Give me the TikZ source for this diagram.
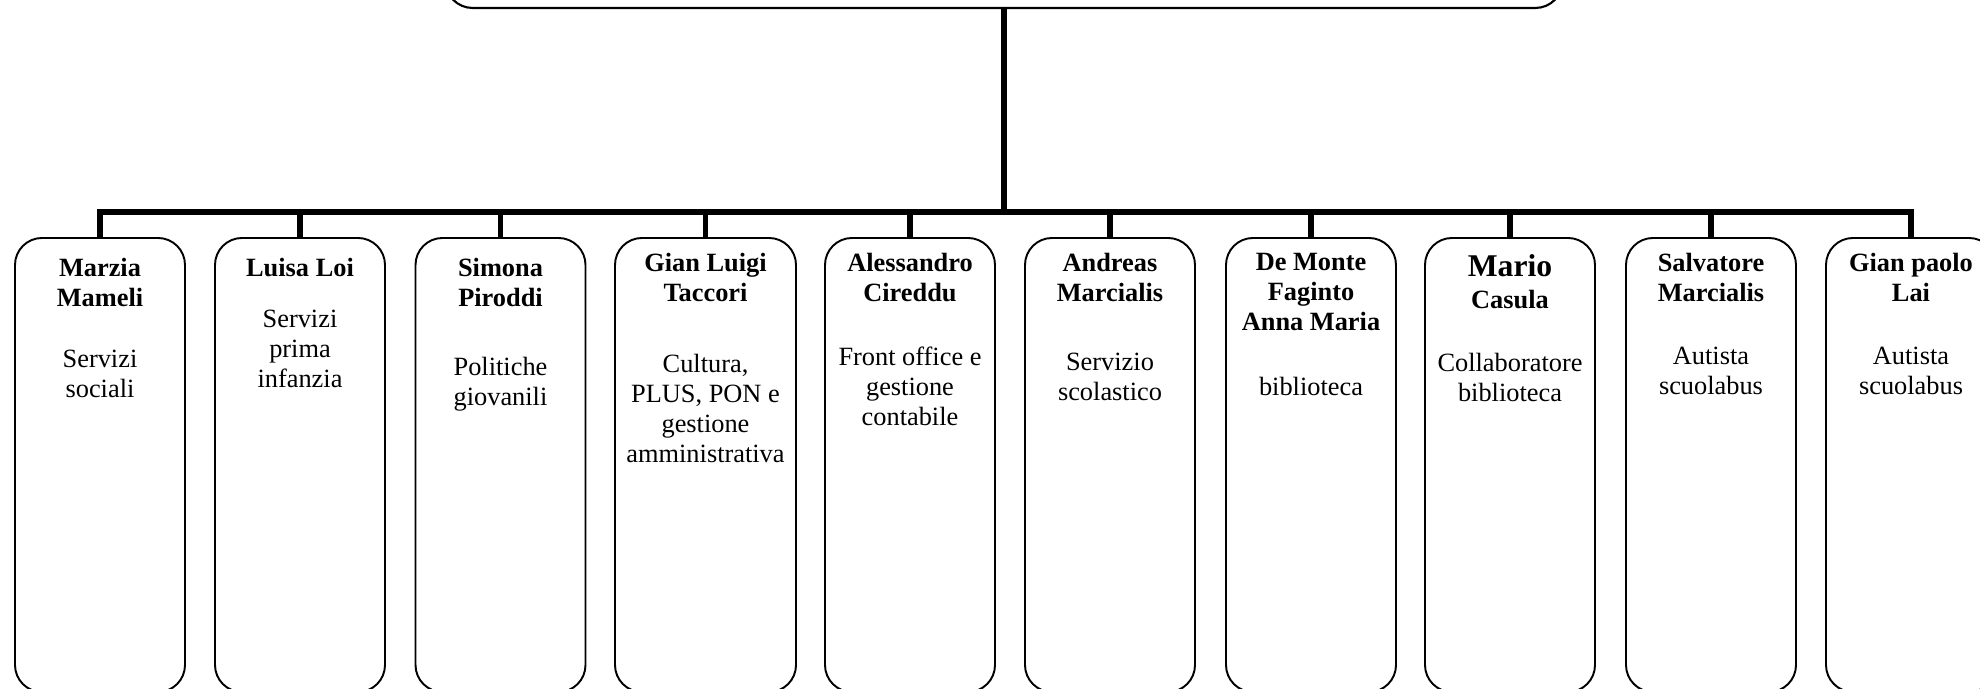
\documentclass[tikz,border=0pt]{standalone}
\usepackage{fontspec}
\setmainfont{Liberation Serif}
\usepackage{tikz}
\tikzset{
  head/.style={draw, rounded corners=5.4mm, line width=1.2pt, minimum width=223.4mm, minimum height=20mm},
  staff/.style={draw, rounded corners=5.4mm, line width=1.1pt, minimum width=34mm, minimum height=90.8mm, anchor=north},
  who/.style={anchor=north, inner sep=0pt, align=center, font=\fontsize{15}{17}\selectfont\bfseries},
  task/.style={anchor=north, inner sep=0pt, align=center, font=\fontsize{15}{17}\selectfont},
  trunk/.style={line width=3.4pt},
  branch/.style={line width=3pt}
}

\begin{document}
\begin{tikzpicture}
  \useasboundingbox (0,0) rectangle (39.6,-13.76);
  \node[head, anchor=south] (resp) at (20.08,-0.18) {};

  \node[staff] (mameli) at (2.00,-4.74) {};
  \node[staff] (loi) at (6.00,-4.74) {};
  \node[staff] (piroddi) at (10.01,-4.74) {};
  \node[staff, minimum width=36.2mm] (taccori) at (14.11,-4.74) {};
  \node[staff] (cireddu) at (18.20,-4.74) {};
  \node[staff] (andreas) at (22.20,-4.74) {};
  \node[staff] (demonte) at (26.22,-4.74) {};
  \node[staff] (casula) at (30.20,-4.74) {};
  \node[staff] (salvatore) at (34.22,-4.74) {};
  \node[staff] (lai) at (38.22,-4.74) {};

  \coordinate (bus) at (20.1,-4.24);
  \draw[trunk] (resp.south) -- (resp.south |- bus);
  \draw[trunk] (mameli.north) -- (mameli.north |- bus) -- (lai.north |- bus) -- (lai.north);
  \foreach \x in {loi,piroddi,taccori,cireddu,andreas,demonte,casula,salvatore} {
    \draw[branch] (\x.north) -- (\x.north |- bus);
  }

  \node[who] (mameliname) at (2.00,-5.16) {Marzia\\Mameli};
  \node[who] (loiname) at (6.00,-5.16) {Luisa Loi};
  \node[who] (piroddiname) at (10.01,-5.16) {Simona\\Piroddi};
  \node[who] (taccoriname) at (14.11,-5.06) {Gian Luigi\\Taccori};
  \node[who] (cireddunane) at (18.20,-5.06) {Alessandro\\Cireddu};
  \node[who] (andreasname) at (22.20,-5.06) {Andreas\\Marcialis};
  \node[who] (demontename) at (26.22,-5.06) {De Monte\\Faginto\\Anna Maria};
  \node[who] (casulaname) at (30.20,-5.08) {{\fontsize{18}{20}\selectfont Mario}\\[1.5pt]Casula};
  \node[who] (salvatorename) at (34.22,-5.06) {Salvatore\\Marcialis};
  \node[who] (lainame) at (38.22,-5.06) {Gian paolo\\Lai};

  \node[task] (mamelirole) at (2.00,-7.00) {Servizi\\sociali};
  \node[task] (loirole) at (6.00,-6.20) {Servizi\\prima\\infanzia};
  \node[task] (piroddirole) at (10.01,-7.14) {Politiche\\giovanili};
  \node[task] (taccorirole) at (14.11,-7.08) {Cultura,\\PLUS, PON e\\gestione\\amministrativa};
  \node[task] (cirederole) at (18.20,-6.94) {Front office e\\gestione\\contabile};
  \node[task] (andreasrole) at (22.20,-7.06) {Servizio\\scolastico};
  \node[task] (demonterole) at (26.22,-7.54) {biblioteca};
  \node[task] (casularole) at (30.20,-7.06) {Collaboratore\\biblioteca};
  \node[task] (salvatorerole) at (34.22,-6.94) {Autista\\scuolabus};
  \node[task] (lairole) at (38.22,-6.94) {Autista\\scuolabus};
\end{tikzpicture}
\end{document}
